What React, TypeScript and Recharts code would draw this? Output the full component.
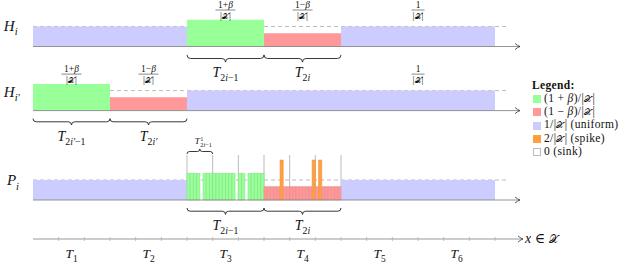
import React from 'react';
import { ComposedChart, XAxis, YAxis, ReferenceArea, ReferenceLine, ReferenceDot } from 'recharts';

const SERIF = "'Liberation Serif', 'DejaVu Serif', serif";
const CAL_X = '\u{1D4B3}';

// ---------------- data ----------------
const blockNames = ['T1', 'T2', 'T3', 'T4', 'T5', 'T6'];
const blockSubs = ['1', '2', '3', '4', '5', '6'];
// levels in units of 1/|X|
const hiLevels = [1, 1, 1.333, 0.667, 1, 1];
const hiKinds = ['u', 'u', 'g', 'r', 'u', 'u'];
const hipLevels = [1.333, 0.667, 1, 1, 1, 1];
const hipKinds = ['g', 'r', 'u', 'u', 'u', 'u'];
const piLevels = [1, 1, 0, 0, 1, 1];
const piKinds = ['u', 'u', 'c', 'c', 'u', 'u'];
// cell-level values of P_i inside T_{2i-1} (T3) and T_{2i} (T4), 24 cells each
const piCellsT3 = [1.333, 1.333, 1.333, 1.333, 0, 1.333, 1.333, 1.333, 1.333, 1.333, 1.333, 1.333, 1.333, 1.333, 1.333, 0, 1.333, 1.333, 0, 1.333, 1.333, 1.333, 1.333, 1.333];
const piCellsT4 = [0.667, 0.667, 0.667, 0.667, 0.667, 2, 0.667, 0.667, 0.667, 0.667, 0.667, 0.667, 0.667, 0.667, 0.667, 2, 0.667, 2, 0.667, 0.667, 0.667, 0.667, 0.667, 0.667];
const axisMarks = [0.3333, 0.6667, 1, 1.3333, 1.6667, 2, 2.3333, 2.6667, 3, 3.3333, 3.6667, 4, 4.3333, 4.6667, 5, 5.3333, 5.6667, 6];
const labelTicks = [0.5, 1.5, 2.5, 3.5, 4.5, 5.5];
const piSubMarks = [2, 2.3333, 2.6667, 3, 3.3333, 3.6667, 4];

const COLOR: Record<string, string> = { g: '#99ff99', r: '#ff9999', u: '#ccccff', s: '#ffa040', z: '#ffffff' };
const STROKE: Record<string, string> = { g: '#7bdc7b', r: '#e58585', s: '#f08a2a' };

// ---------------- layout (axis units) ----------------
const X0 = -33 / 77;
const X1 = 607 / 77;
const YMAX = 11.95;
const HI_BASE = 9.625;
const HIP_BASE = 6.42;
const PI_BASE = 1.95;
const DASH_END = 6.156;
const ROW_ARROW = 6.325;
const AXIS_ARROW = 6.364;

type Part = { t: string; it?: boolean; sub?: boolean; sup?: boolean; cal?: boolean };

function Tex({ x, y, parts, fs, anchor = 'middle' }: { x: number; y: number; parts: Part[]; fs: number; anchor?: string }) {
  let cur = 0;
  return (
    <text x={x} y={y} fontSize={fs} fontFamily={SERIF} textAnchor={anchor as any} fill="#111">
      {parts.map((p, i) => {
        const target = p.sub ? fs * 0.3 : p.sup ? -fs * 0.38 : 0;
        const dy = target - cur;
        cur = target;
        const base = p.sub || p.sup ? fs * 0.7 : fs;
        return (
          <tspan key={i} dy={dy} fontSize={p.cal ? base * 0.82 : base} fontStyle={p.it ? 'italic' : 'normal'} fontWeight="normal">
            {p.t}
          </tspan>
        );
      })}
    </text>
  );
}

const DEN: Part[] = [{ t: '|' }, { t: CAL_X, cal: true }, { t: '|' }];
const NUM_P: Part[] = [{ t: '1+' }, { t: 'β', it: true }];
const NUM_M: Part[] = [{ t: '1−' }, { t: 'β', it: true }];
const NUM_1: Part[] = [{ t: '1' }];

function Frac({ cx, cy, num, w }: { cx: number; cy: number; num: Part[]; w: number }) {
  return (
    <g>
      <Tex x={cx} y={cy - 1.8} parts={num} fs={9.5} />
      <line x1={cx - w / 2} x2={cx + w / 2} y1={cy} y2={cy} stroke="#111" strokeWidth={0.5} />
      <Tex x={cx} y={cy + 8.5} parts={DEN} fs={9.5} />
    </g>
  );
}

function Brace({ x, y, width, height, up }: any) {
  const r = Math.min(height / 2, 5);
  const cx = x + width / 2;
  let d: string;
  const m = y + height / 2;
  const b = y + height;
  if (!up) {
    d = `M${x},${y} Q${x},${m} ${x + r},${m} L${cx - r},${m} Q${cx},${m} ${cx},${b} Q${cx},${m} ${cx + r},${m} L${x + width - r},${m} Q${x + width},${m} ${x + width},${y}`;
  } else {
    d = `M${x},${b} Q${x},${m} ${x + r},${m} L${cx - r},${m} Q${cx},${m} ${cx},${y} Q${cx},${m} ${cx + r},${m} L${x + width - r},${m} Q${x + width},${m} ${x + width},${b}`;
  }
  return <path d={d} fill="none" stroke="#222" strokeWidth={0.9} />;
}

const Arrow = (p: any) => (
  <path
    d={`M${p.cx - 5},${p.cy - 3} Q${p.cx - 2},${p.cy - 0.6} ${p.cx},${p.cy} Q${p.cx - 2},${p.cy + 0.6} ${p.cx - 5},${p.cy + 3}`}
    fill="none"
    stroke="#333"
    strokeWidth={0.8}
  />
);

const AxisTick = (props: any) => {
  const { x, y, payload } = props;
  const li = labelTicks.indexOf(payload.value);
  if (li >= 0) {
    return <Tex x={x} y={y + 19} fs={13.5} parts={[{ t: 'T', it: true }, { t: blockSubs[li], sub: true }]} />;
  }
  return <line x1={x} x2={x} y1={y - 2} y2={y + 2} stroke="#b0b0b0" strokeWidth={0.8} />;
};

const T_ODD: Part[] = [{ t: 'T', it: true }, { t: '2', sub: true }, { t: 'i', sub: true, it: true }, { t: '−1', sub: true }];
const T_EVEN: Part[] = [{ t: 'T', it: true }, { t: '2', sub: true }, { t: 'i', sub: true, it: true }];
const T_ODD_P: Part[] = [{ t: 'T', it: true }, { t: '2', sub: true }, { t: 'i′', sub: true, it: true }, { t: '−1', sub: true }];
const T_EVEN_P: Part[] = [{ t: 'T', it: true }, { t: '2', sub: true }, { t: 'i′', sub: true, it: true }];

const legendItems: { kind: string; parts: Part[] }[] = [
  { kind: 'g', parts: [{ t: '(1 + ' }, { t: 'β', it: true }, { t: ')/|' }, { t: CAL_X, cal: true }, { t: '|' }] },
  { kind: 'r', parts: [{ t: '(1 − ' }, { t: 'β', it: true }, { t: ')/|' }, { t: CAL_X, cal: true }, { t: '|' }] },
  { kind: 'u', parts: [{ t: '1/|' }, { t: CAL_X, cal: true }, { t: '| (uniform)' }] },
  { kind: 's', parts: [{ t: '2/|' }, { t: CAL_X, cal: true }, { t: '| (spike)' }] },
  { kind: 'z', parts: [{ t: '0 (sink)' }] },
];

const chartData = blockNames.map((name, i) => ({ name, x: i + 0.5 }));

function hLine(key: string, xa: number, xb: number, y: number) {
  return (
    <ReferenceArea
      key={key}
      x1={xa}
      x2={xb}
      y1={y - 0.01}
      y2={y + 0.01}
      ifOverflow="visible"
      shape={(p: any) => (
        <line
          x1={p.x}
          x2={p.x + p.width}
          y1={p.y + p.height / 2}
          y2={p.y + p.height / 2}
          stroke="#aaaaaa"
          strokeWidth={0.8}
          strokeDasharray="4 3"
        />
      )}
    />
  );
}

function rowBars(prefix: string, levels: number[], kinds: string[], base: number) {
  return levels.map((lv, i) =>
    kinds[i] === 'c' ? null : (
      <ReferenceArea
        key={prefix + i}
        x1={i}
        x2={i + 1}
        y1={base}
        y2={base + lv}
        fill={COLOR[kinds[i]]}
        fillOpacity={1}
        stroke="none"
        ifOverflow="visible"
      />
    )
  );
}

function cellBars(prefix: string, cells: number[], block: number, base: number) {
  return cells.map((v, k) => {
    if (v === 0) return null;
    const kind = v > 1.9 ? 's' : v > 1 ? 'g' : 'r';
    return (
      <ReferenceArea
        key={prefix + k}
        x1={block + k / cells.length}
        x2={block + (k + 1) / cells.length}
        y1={base}
        y2={base + v}
        fill={COLOR[kind]}
        fillOpacity={1}
        stroke={STROKE[kind]}
        strokeWidth={0.5}
        ifOverflow="visible"
      />
    );
  });
}

function label(key: string, x: number, y: number, render: (cx: number, cy: number) => React.ReactNode) {
  return <ReferenceDot key={key} x={x} y={y} r={0} ifOverflow="visible" shape={(p: any) => <g>{render(p.cx, p.cy)}</g>} />;
}

function brace(key: string, xa: number, xb: number, ya: number, yb: number, up: boolean) {
  return <ReferenceArea key={key} x1={xa} x2={xb} y1={ya} y2={yb} ifOverflow="visible" shape={(p: any) => <Brace {...p} up={up} />} />;
}

export default function App() {
  return (
    <div style={{ position: 'absolute', left: 0, top: 0, width: 640, height: 263, background: '#fff' }}>
      <ComposedChart width={640} height={263} data={chartData} margin={{ top: 0, right: 0, bottom: 0, left: 0 }}>
        <XAxis
          type="number"
          dataKey="x"
          domain={[X0, X1]}
          allowDataOverflow
          ticks={[...axisMarks, ...labelTicks]}
          interval={0}
          axisLine={false}
          tickLine={false}
          tickSize={0}
          tickMargin={0}
          height={24}
          tick={<AxisTick />}
        />
        <YAxis type="number" domain={[0, YMAX]} allowDataOverflow hide />

        {/* dashed 1/|X| reference levels (behind bars) */}
        {hLine('d1', 0, DASH_END, HI_BASE + 1)}
        {hLine('d2', 0, DASH_END, HIP_BASE + 1)}
        {hLine('d3', 0, DASH_END, PI_BASE + 1)}

        {/* gray sub-block separators in P_i */}
        {piSubMarks.map((m, i) => (
          <ReferenceArea
            key={'gm' + i}
            x1={m - 0.001}
            x2={m + 0.001}
            y1={PI_BASE}
            y2={PI_BASE + 2.25}
            ifOverflow="visible"
            shape={(p: any) => (
              <line x1={p.x + p.width / 2} x2={p.x + p.width / 2} y1={p.y} y2={p.y + p.height} stroke="#bbbbbb" strokeWidth={1} />
            )}
          />
        ))}

        {rowBars('hi', hiLevels, hiKinds, HI_BASE)}
        {rowBars('hip', hipLevels, hipKinds, HIP_BASE)}
        {rowBars('pi', piLevels, piKinds, PI_BASE)}
        {cellBars('c3', piCellsT3, 2, PI_BASE)}
        {cellBars('c4', piCellsT4, 3, PI_BASE)}

        {/* baselines with arrows */}
        {[HI_BASE, HIP_BASE, PI_BASE].map((b, i) => (
          <ReferenceLine key={'bl' + i} segment={[{ x: 0, y: b }, { x: ROW_ARROW, y: b }]} stroke="#888" strokeWidth={0.9} ifOverflow="visible" />
        ))}
        {[HI_BASE, HIP_BASE, PI_BASE].map((b, i) => (
          <ReferenceDot key={'ar' + i} x={ROW_ARROW} y={b} r={0} ifOverflow="visible" shape={Arrow} />
        ))}
        <ReferenceLine segment={[{ x: 0, y: 0 }, { x: AXIS_ARROW, y: 0 }]} stroke="#999" strokeWidth={1} ifOverflow="visible" />
        <ReferenceDot x={AXIS_ARROW} y={0} r={0} ifOverflow="visible" shape={Arrow} />

        {/* braces */}
        {brace('b1', 2, 3, HI_BASE - 0.42, HI_BASE - 0.78, false)}
        {brace('b2', 3, 4, HI_BASE - 0.42, HI_BASE - 0.78, false)}
        {brace('b3', 0, 1, HIP_BASE - 0.4, HIP_BASE - 0.72, false)}
        {brace('b4', 1, 2, HIP_BASE - 0.4, HIP_BASE - 0.72, false)}
        {brace('b5', 2, 3, PI_BASE - 0.4, PI_BASE - 0.72, false)}
        {brace('b6', 3, 4, PI_BASE - 0.4, PI_BASE - 0.72, false)}
        {brace('b7', 2, 2.3333, PI_BASE + 2.3, PI_BASE + 2.55, true)}

        {/* row labels */}
        {label('rl1', X0 + 0.05, HI_BASE + 0.8, (cx, cy) => (
          <Tex x={cx} y={cy} fs={15} anchor="start" parts={[{ t: 'H', it: true }, { t: 'i', sub: true, it: true }]} />
        ))}
        {label('rl2', X0 + 0.05, HIP_BASE + 0.7, (cx, cy) => (
          <Tex x={cx} y={cy} fs={15} anchor="start" parts={[{ t: 'H', it: true }, { t: 'i′', sub: true, it: true }]} />
        ))}
        {label('rl3', X0 + 0.09, PI_BASE + 0.75, (cx, cy) => (
          <Tex x={cx} y={cy} fs={15} anchor="start" parts={[{ t: 'P', it: true }, { t: 'i', sub: true, it: true }]} />
        ))}

        {/* fraction labels */}
        {label('f1', 2.5, HI_BASE + 1.825, (cx, cy) => <Frac cx={cx} cy={cy} num={NUM_P} w={20} />)}
        {label('f2', 3.5, HI_BASE + 1.825, (cx, cy) => <Frac cx={cx} cy={cy} num={NUM_M} w={20} />)}
        {label('f3', 5.0, HI_BASE + 1.825, (cx, cy) => <Frac cx={cx} cy={cy} num={NUM_1} w={13} />)}
        {label('f4', 0.5, HIP_BASE + 1.825, (cx, cy) => <Frac cx={cx} cy={cy} num={NUM_P} w={20} />)}
        {label('f5', 1.5, HIP_BASE + 1.825, (cx, cy) => <Frac cx={cx} cy={cy} num={NUM_M} w={20} />)}
        {label('f6', 5.0, HIP_BASE + 1.825, (cx, cy) => <Frac cx={cx} cy={cy} num={NUM_1} w={13} />)}

        {/* brace labels */}
        {label('t1', 2.5, HI_BASE - 1.53, (cx, cy) => <Tex x={cx} y={cy} fs={14} parts={T_ODD} />)}
        {label('t2', 3.5, HI_BASE - 1.53, (cx, cy) => <Tex x={cx} y={cy} fs={14} parts={T_EVEN} />)}
        {label('t3', 0.5, HIP_BASE - 1.53, (cx, cy) => <Tex x={cx} y={cy} fs={14} parts={T_ODD_P} />)}
        {label('t4', 1.5, HIP_BASE - 1.53, (cx, cy) => <Tex x={cx} y={cy} fs={14} parts={T_EVEN_P} />)}
        {label('t5', 2.5, PI_BASE - 1.5, (cx, cy) => <Tex x={cx} y={cy} fs={14} parts={T_ODD} />)}
        {label('t6', 3.5, PI_BASE - 1.5, (cx, cy) => <Tex x={cx} y={cy} fs={14} parts={T_EVEN} />)}
        {label('t7', 2.1667, PI_BASE + 2.8, (cx, cy) => (
          <g>
            <Tex x={cx - 5} y={cy} fs={9} anchor="start" parts={[{ t: 'T', it: true }]} />
            <Tex x={cx + 0.5} y={cy - 3.5} fs={6.3} anchor="start" parts={[{ t: '1' }]} />
            <Tex x={cx + 0.5} y={cy + 2.5} fs={6.3} anchor="start" parts={[{ t: '2' }, { t: 'i', it: true }, { t: '−1' }]} />
          </g>
        ))}

        {/* axis name */}
        {label('ax', 6.39, 0, (cx, cy) => (
          <Tex x={cx} y={cy + 4} fs={14} anchor="start" parts={[{ t: 'x', it: true }, { t: ' ∈ ' }, { t: CAL_X, cal: true }]} />
        ))}
      </ComposedChart>

      <div style={{ position: 'absolute', left: 532, top: 79, fontFamily: SERIF, fontSize: 11.5, letterSpacing: '0.35px', lineHeight: '13.3px', color: '#111', whiteSpace: 'nowrap' }}>
        <div style={{ fontWeight: 'bold', height: 13.3 }}>Legend:</div>
        {legendItems.map((it, i) => (
          <div key={i} style={{ display: 'flex', alignItems: 'center', height: 13.3 }}>
            <span
              style={{
                display: 'inline-block',
                width: 8,
                height: 8,
                marginLeft: 1,
                marginRight: 3,
                background: COLOR[it.kind],
                border: it.kind === 'z' ? '0.5px solid #bbb' : 'none',
                boxSizing: 'border-box',
                flex: 'none',
              }}
            />
            <span>
              {it.parts.map((p, j) => (
                <span key={j} style={{ fontStyle: p.it ? 'italic' : 'normal', fontSize: p.cal ? '0.8em' : undefined }}>
                  {p.t}
                </span>
              ))}
            </span>
          </div>
        ))}
      </div>
    </div>
  );
}
